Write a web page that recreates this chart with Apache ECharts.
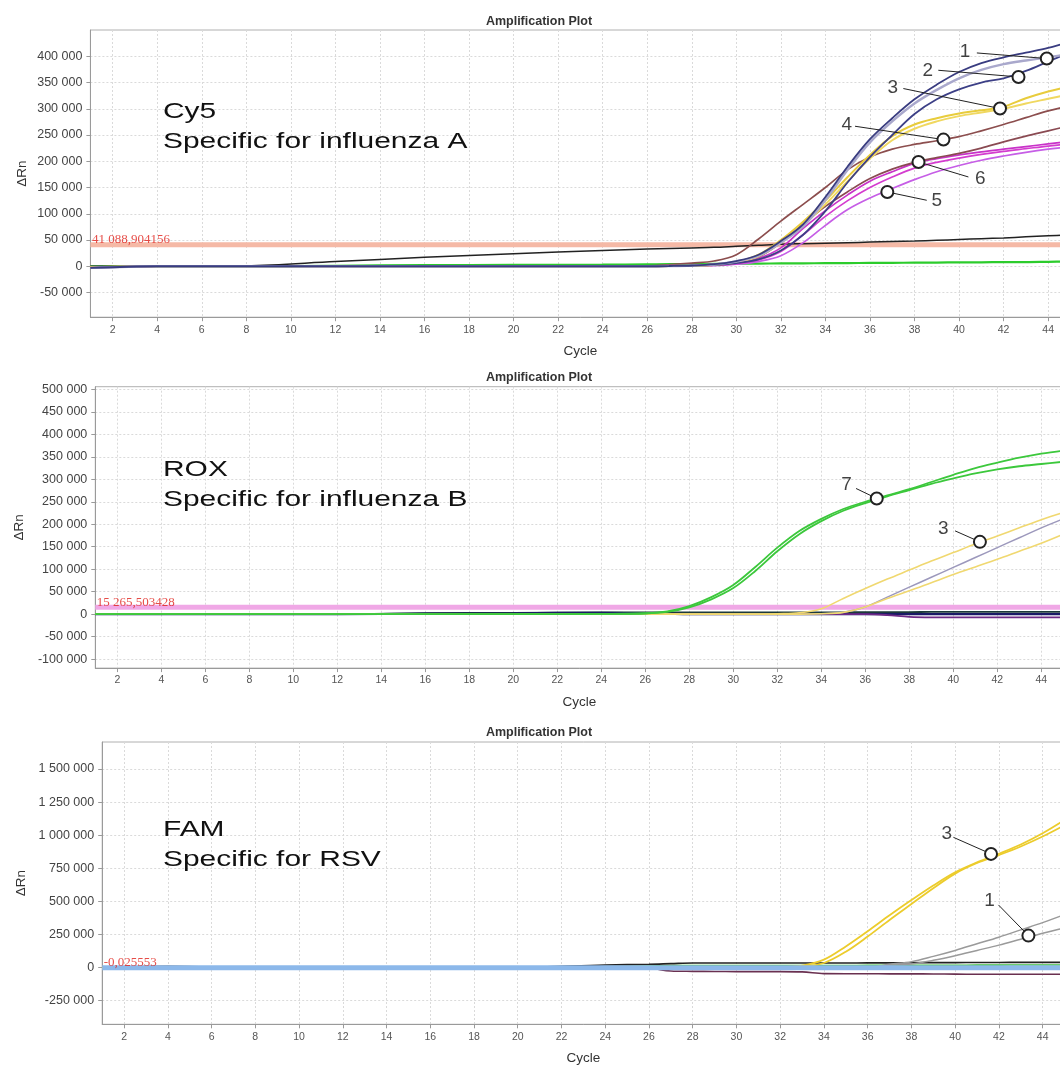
<!DOCTYPE html>
<html>
<head>
<meta charset="utf-8">
<script src="https://cdn.jsdelivr.net/npm/echarts@6/dist/echarts.min.js"></script>
<style>
html,body{margin:0;padding:0;overflow:hidden;background:#fff;}
#chart{width:1080px;height:1068px;}
</style>
</head>
<body>
<div id="chart"></div>
<script>
// ---------- shared axes ----------
const CYC = [1,4,8,12,16,20,24,26,27,28,29,30,31,32,33,34,35,36,37,38,39,40,41,42,43,44,45];
const X_TICKS = [2,4,6,8,10,12,14,16,18,20,22,24,26,28,30,32,34,36,38,40,42,44];
const CY5_Y_TICKS = [-50000,0,50000,100000,150000,200000,250000,300000,350000,400000];
const ROX_Y_TICKS = [-100000,-50000,0,50000,100000,150000,200000,250000,300000,350000,400000,450000,500000];
const FAM_Y_TICKS = [-250000,0,250000,500000,750000,1000000,1250000,1500000];

// ---------- Cy5 (influenza A) ----------
const CY5_NAVY_1   = [-3000,0,0,0,0,0,0,0,500,1500,4000,10000,22000,48000,80000,132000,190000,242000,282000,318000,346000,370000,387000,398000,407000,416000,428000];
const CY5_GRAY_1   = [-3000,0,0,0,0,0,0,0,500,1500,3500,9000,20000,45000,76000,126000,184000,236000,276000,310000,336000,358000,374000,385000,392000,398000,405000];
const CY5_NAVY_2   = [-3000,0,0,0,0,0,0,0,300,1000,2500,6000,13000,30000,60000,105000,160000,208000,250000,290000,318000,337000,350000,358000,372000,390000,408000];
const CY5_YELLOW_A = [-2000,0,0,0,0,0,0,0,300,1000,3000,8000,22000,50000,85000,125000,170000,212000,248000,270000,282000,291000,297000,304000,320000,333000,343000];
const CY5_YELLOW_B = [-2000,0,0,0,0,0,0,0,300,1000,2500,7000,19000,45000,78000,118000,162000,205000,240000,262000,276000,286000,293000,300000,310000,319000,328000];
const CY5_BROWN_A  = [-2000,0,0,0,0,0,0,1000,3000,6000,10000,22000,52000,86000,118000,150000,184000,208000,223000,232000,239000,247000,258000,270000,283000,296000,306000];
const CY5_BROWN_B  = [-2000,0,0,0,0,0,0,0,500,1000,4000,8000,18000,45000,80000,114000,142000,167000,185000,198000,207000,215000,225000,237000,248000,258000,268000];
const CY5_MAGENTA_A= [-2000,0,0,0,0,0,0,0,200,500,2000,6000,15000,35000,72000,106000,136000,162000,180000,196000,205000,212000,218000,223000,228000,233000,238000];
const CY5_MAGENTA_B= [-2000,0,0,0,0,0,0,0,200,500,2000,5000,12000,28000,60000,95000,125000,150000,170000,187000,198000,206000,213000,219000,224000,229000,233000];
const CY5_VIOLET   = [-2000,0,0,0,0,0,0,0,100,300,1000,4000,9000,20000,45000,78000,108000,130000,148000,165000,180000,192000,202000,210000,217000,223000,228000];
const CY5_BLACK    = [0,0,1000,9000,17000,24000,30000,33000,34000,35000,36000,38000,40000,42000,43000,44000,45000,46000,47000,48000,49500,51000,52500,54000,56000,58000,60000];
const CY5_GREEN    = [0,0,0,1000,2000,2500,3000,3500,4000,4000,4500,5000,5000,5500,5500,6000,6000,6500,6500,7000,7000,7500,7500,8000,8000,8500,9000];
const CY5_THRESHOLD = 41088.904156;
const CY5_THRESHOLD_TEXT = '41 088,904156';
const CY5_CALLOUT_LABELS = ['1','2','3','4','6','5'];
const CY5_CALLOUT_TEXT   = [[40.27,408200],[38.60,373300],[37.03,340400],[34.96,268600],[40.95,167000],[39.0,125700]];
const CY5_CALLOUT_FROM   = [[40.80,406300],[39.07,373300],[37.50,338500],[35.33,266700],[40.42,170100],[38.55,125700]];
const CY5_CALLOUT_CIRCLE = [[43.94,395600],[42.67,360600],[41.84,300400],[39.30,241300],[38.18,198700],[36.78,141500]];

// ---------- ROX (influenza B) ----------
const ROX_GREEN_A  = [0,0,0,0,0,0,500,2000,6000,18000,38000,65000,105000,148000,185000,212000,234000,250000,264000,278000,294000,310000,325000,337000,348000,357000,364000];
const ROX_GREEN_B  = [0,0,0,0,0,0,500,1500,5000,15000,33000,58000,96000,140000,178000,207000,230000,247000,262000,276000,290000,302000,313000,322000,329000,334000,339000];
const ROX_YELLOW_A = [0,0,0,0,0,0,0,0,0,0,0,0,0,1000,3000,12000,35000,57000,78000,98000,118000,137000,156000,174000,192000,210000,226000];
const ROX_YELLOW_B = [0,0,0,0,0,0,0,0,0,0,0,0,0,0,0,1000,4000,16000,35000,52000,70000,88000,105000,122000,140000,158000,178000];
const ROX_GRAY     = [0,0,0,0,0,0,0,0,0,0,0,0,0,0,0,1000,4000,16000,38000,60000,82000,104000,126000,148000,170000,192000,212000];
const ROX_NAVY     = [0,0,0,0,1000,2000,3000,2000,1000,0,0,0,0,0,0,0,0,0,0,0,0,0,0,0,0,0,0];
const ROX_PURPLE   = [0,0,0,0,0,0,0,0,0,0,0,0,0,0,0,0,0,0,-2000,-6000,-7000,-7000,-7000,-7000,-7000,-7000,-7000];
const ROX_BLACK    = [0,0,0,0,2000,3000,4000,4000,4000,4000,4000,4000,4000,4000,4000,4000,4000,4500,4500,4500,5000,5000,5000,5000,5000,5000,5000];
const ROX_THRESHOLD = 15265.503428;
const ROX_THRESHOLD_TEXT = '15 265,503428';
const ROX_CALLOUT_LABELS = ['7','3'];
const ROX_CALLOUT_TEXT   = [[35.15,287000],[39.55,190700]];
const ROX_CALLOUT_FROM   = [[35.58,279600],[40.08,185300]];
const ROX_CALLOUT_CIRCLE = [[36.52,257400],[41.21,160800]];

// ---------- FAM (RSV) ----------
const FAM_YELLOW_A = [0,0,0,0,0,0,0,0,0,0,0,0,1000,5000,15000,60000,160000,275000,395000,510000,620000,720000,795000,860000,930000,1015000,1115000];
const FAM_YELLOW_B = [0,0,0,0,0,0,0,0,0,0,0,0,0,3000,8000,35000,120000,235000,360000,480000,600000,710000,790000,850000,915000,990000,1075000];
const FAM_GRAY_A   = [0,0,0,0,0,0,0,0,0,0,0,0,0,0,0,0,0,0,25000,45000,85000,130000,180000,230000,285000,340000,400000];
const FAM_GRAY_B   = [0,0,0,0,0,0,0,0,0,0,0,0,0,0,0,0,0,0,18000,28000,55000,90000,130000,170000,215000,260000,300000];
const FAM_BLACK    = [0,10000,0,0,0,2000,20000,25000,30000,35000,35000,35000,35000,35000,35000,35000,35000,36000,36000,37000,38000,38000,39000,39000,40000,40000,40000];
const FAM_GREEN    = [0,0,0,0,0,0,8000,12000,15000,15000,15000,15000,15000,15000,15000,16000,16000,17000,17000,18000,18000,18000,19000,19000,20000,20000,20000];
const FAM_TEAL     = [0,0,0,0,0,0,0,-3000,-5000,-5000,-5000,-5000,-5000,-5000,-5000,-5000,-6000,-6000,-6000,-6000,-6000,-6000,-6000,-6000,-6000,-6000,-6000];
const FAM_PURPLE   = [0,0,0,0,0,0,0,-5000,-25000,-28000,-29000,-30000,-30000,-30000,-32000,-45000,-46000,-46000,-47000,-47000,-48000,-49000,-50000,-50000,-50000,-50000,-50000];
const FAM_THRESHOLD = -0.025553;
const FAM_THRESHOLD_TEXT = '-0,025553';
const FAM_CALLOUT_LABELS = ['3','1'];
const FAM_CALLOUT_TEXT   = [[39.62,1014400],[41.57,506000]];
const FAM_CALLOUT_FROM   = [[39.92,984100],[41.98,473600]];
const FAM_CALLOUT_CIRCLE = [[41.64,858800],[43.35,241700]];

// ---------- build ----------
const FONT = '"Liberation Sans", Arial, sans-serif';
const series = [];
function pts(vals){ return CYC.map((c,i)=>[c, vals[i]]); }
function curve(g, vals, color, w, z){
  series.push({type:'line', xAxisIndex:g, yAxisIndex:g, data:pts(vals), smooth:0.35,
    showSymbol:false, symbol:'none', silent:true, lineStyle:{color:color, width:w||1.7}, z:z||3});
}
function threshold(g, value, text, color, z){
  series.push({type:'line', xAxisIndex:g, yAxisIndex:g, data:[[1,value],[45,value]], symbol:'none',
    silent:true, lineStyle:{color:color, width:5}, z:z||2});
  series.push({type:'scatter', xAxisIndex:g, yAxisIndex:g, data:[[1,value]], symbolSize:1,
    itemStyle:{color:'rgba(0,0,0,0)'}, silent:true, z:7,
    label:{show:true, position:'right', distance:1, offset:[0,-5], formatter:text,
      color:'#e0201a', fontFamily:'"Liberation Serif", serif', fontSize:13}});
}
function callouts(g, labels, texts, froms, circles){
  labels.forEach((lab,i)=>{
    series.push({type:'line', xAxisIndex:g, yAxisIndex:g, silent:true, z:8,
      data:[{value:froms[i], symbol:'none'}, {value:circles[i], symbol:'emptyCircle', symbolSize:12}],
      showSymbol:true, lineStyle:{color:'#222', width:1}, itemStyle:{color:'#222', borderWidth:1.2}});
    series.push({type:'scatter', xAxisIndex:g, yAxisIndex:g, data:[texts[i]], symbolSize:1, silent:true, z:9,
      itemStyle:{color:'rgba(0,0,0,0)'},
      label:{show:true, position:'inside', formatter:lab, fontSize:19, color:'#111', fontFamily:FONT}});
  });
}

// panel 0: Cy5
threshold(0, CY5_THRESHOLD, CY5_THRESHOLD_TEXT, '#f5b9a6');
curve(0, CY5_GREEN, '#2ccc2c', 2.2);
curve(0, CY5_BLACK, '#222222', 1.5);
curve(0, CY5_VIOLET, '#c65ee6');
curve(0, CY5_MAGENTA_B, '#d43ccf');
curve(0, CY5_MAGENTA_A, '#c832c8');
curve(0, CY5_BROWN_B, '#8a4a52');
curve(0, CY5_BROWN_A, '#8c4e4e');
curve(0, CY5_YELLOW_B, '#f0d860', 2);
curve(0, CY5_YELLOW_A, '#e8cc3c', 2);
curve(0, CY5_NAVY_2, '#3c3f86', 1.8);
curve(0, CY5_GRAY_1, '#a9a8cc', 2.4);
curve(0, CY5_NAVY_1, '#393c80', 1.8);
callouts(0, CY5_CALLOUT_LABELS, CY5_CALLOUT_TEXT, CY5_CALLOUT_FROM, CY5_CALLOUT_CIRCLE);

// panel 1: ROX
threshold(1, ROX_THRESHOLD, ROX_THRESHOLD_TEXT, '#f0a8e6');
curve(1, ROX_BLACK, '#1d3a3a', 1.8);
curve(1, ROX_NAVY, '#1a1a66', 2.2);
curve(1, ROX_PURPLE, '#6e2a86', 1.8);
curve(1, ROX_GRAY, '#9c98bc', 1.5);
curve(1, ROX_YELLOW_B, '#f0d870', 1.6);
curve(1, ROX_YELLOW_A, '#f0d870', 1.6);
curve(1, ROX_GREEN_B, '#3cc83c', 1.8);
curve(1, ROX_GREEN_A, '#3cc83c', 1.8);
callouts(1, ROX_CALLOUT_LABELS, ROX_CALLOUT_TEXT, ROX_CALLOUT_FROM, ROX_CALLOUT_CIRCLE);

// panel 2: FAM (threshold drawn over the flat baselines)
threshold(2, FAM_THRESHOLD, FAM_THRESHOLD_TEXT, '#8cb8ea', 4);
curve(2, FAM_PURPLE, '#6a3050', 1.6, 3);
curve(2, FAM_TEAL, '#5cc4c4', 1.8, 3);
curve(2, FAM_GREEN, '#3cbf3c', 1.6, 3);
curve(2, FAM_BLACK, '#222222', 1.6, 3);
curve(2, FAM_GRAY_B, '#9a9a9a', 1.5, 3);
curve(2, FAM_GRAY_A, '#9a9a9a', 1.5, 3);
curve(2, FAM_YELLOW_B, '#eccc2c', 1.8, 3);
curve(2, FAM_YELLOW_A, '#eccc2c', 1.8, 3);
callouts(2, FAM_CALLOUT_LABELS, FAM_CALLOUT_TEXT, FAM_CALLOUT_FROM, FAM_CALLOUT_CIRCLE);

function fmt(v){
  const s = Math.abs(v).toString().replace(/\B(?=(\d{3})+(?!\d))/g, ' ');
  return (v < 0 ? '-' : '') + s;
}
function xAxis(g){
  return {type:'value', gridIndex:g, min:1, max:45,
    name:'Cycle', nameLocation:'middle', nameGap:27, nameMoveOverlap:false,
    nameTextStyle:{fontSize:13.5, color:'#333', fontFamily:FONT},
    axisLine:{show:true, onZero:false, lineStyle:{color:'#9a9a9a'}},
    axisTick:{show:true, customValues:X_TICKS, length:4, lineStyle:{color:'#9a9a9a'}},
    axisLabel:{customValues:X_TICKS, color:'#555', fontSize:10.5, margin:7, fontFamily:FONT},
    splitLine:{show:true, lineStyle:{color:'#dadada', type:[2,2]}}};
}
function yAxis(g, min, max, ticks, gap){
  return {type:'value', gridIndex:g, min:min, max:max,
    name:'\u0394Rn', nameLocation:'middle', nameGap:gap, nameMoveOverlap:false,
    nameTextStyle:{fontSize:13.5, color:'#333', fontFamily:FONT},
    axisLine:{show:true, onZero:false, lineStyle:{color:'#9a9a9a'}},
    axisTick:{show:true, customValues:ticks, length:4, lineStyle:{color:'#9a9a9a'}},
    axisLabel:{customValues:ticks, formatter:fmt, color:'#444', fontSize:12.5, margin:8, fontFamily:FONT},
    splitLine:{show:true, lineStyle:{color:'#dadada', type:[2,2]}}};
}
const gridBase = {show:true, borderColor:'#b0b0b0', borderWidth:1, containLabel:false, outerBoundsMode:'none'};

const titleStyle = {fontSize:12.5, fontWeight:'bold', color:'#333', fontFamily:FONT};
function bigText(x, y, t){
  return {type:'text', x:x, y:y, scaleX:1.36, silent:true, z:20,
    style:{text:t, font:'22px "Liberation Sans", Arial, sans-serif', fill:'#111',
      textAlign:'left', textVerticalAlign:'middle', verticalAlign:'middle'}};
}

const option = {
  animation:false,
  backgroundColor:'#fff',
  title:[
    {text:'Amplification Plot', left:534, top:10, textAlign:'center', textStyle:titleStyle},
    {text:'Amplification Plot', left:534, top:366, textAlign:'center', textStyle:titleStyle},
    {text:'Amplification Plot', left:534, top:721, textAlign:'center', textStyle:titleStyle}
  ],
  grid:[
    Object.assign({left:90.4, top:30, width:980, height:287.2}, gridBase),
    Object.assign({left:95.3, top:386.7, width:968, height:281.4}, gridBase),
    Object.assign({left:102.2, top:742, width:962.3, height:282.3}, gridBase)
  ],
  xAxis:[xAxis(0), xAxis(1), xAxis(2)],
  yAxis:[
    yAxis(0, -97000, 450000, CY5_Y_TICKS, 61),
    yAxis(1, -120000, 506000, ROX_Y_TICKS, 69),
    yAxis(2, -428000, 1704000, FAM_Y_TICKS, 74)
  ],
  graphic:[
    bigText(163, 112, 'Cy5'),
    bigText(163, 142, 'Specific for influenza A'),
    bigText(163, 470, 'ROX'),
    bigText(163, 500, 'Specific for influenza B'),
    bigText(163, 830, 'FAM'),
    bigText(163, 860, 'Specific for RSV')
  ],
  series:series
};
const chart = echarts.init(document.getElementById('chart'), null, {renderer:'canvas'});
chart.setOption(option);
</script>
</body>
</html>
